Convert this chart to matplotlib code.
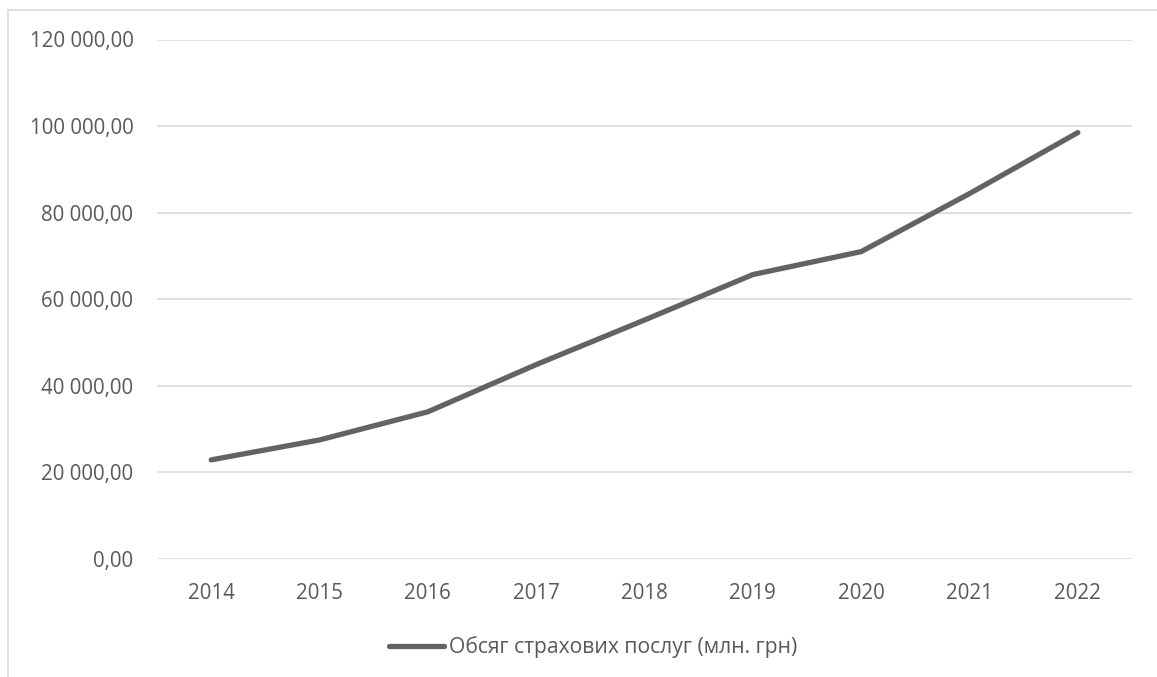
import matplotlib
matplotlib.use("Agg")
import matplotlib.pyplot as plt
from matplotlib.lines import Line2D
from matplotlib.ticker import FuncFormatter, MultipleLocator

years = ["2014", "2015", "2016", "2017", "2018", "2019", "2020", "2021", "2022"]
volume = [22900, 27500, 34000, 44900, 55200, 65700, 71000, 84400, 98500]
series_label = "Обсяг страхових послуг (млн. грн)"

TEXT = "#595959"
GRID = "#d9d9d9"
LINE = "#636363"

plt.rcParams["font.family"] = ["Open Sans", "DejaVu Sans"]


def uah(v, _pos):
    s = f"{v:,.2f}"
    return s.replace(",", " ").replace(".", ",")


fig = plt.figure(figsize=(11.57, 6.77), dpi=100)
W, H = 1157, 677
ax = fig.add_axes([157 / W, 1 - 559 / H, (1132 - 157) / W, (559 - 39.5) / H])

x = list(range(len(years)))
ax.plot(x, volume, color=LINE, lw=3.8, solid_capstyle="round", solid_joinstyle="round",
        label=series_label)

ax.set_xlim(-0.5, len(years) - 0.5)
ax.set_ylim(0, 120000)
ax.yaxis.set_major_locator(MultipleLocator(20000))
ax.yaxis.set_major_formatter(FuncFormatter(uah))
ax.set_xticks(x)
ax.set_xticklabels(years)
ax.grid(axis="y", color=GRID, lw=1.2)
ax.set_axisbelow(True)
for s in ax.spines.values():
    s.set_visible(False)
ax.tick_params(length=0, colors=TEXT, labelsize=14.8)
ax.tick_params(axis="y", pad=17)
ax.tick_params(axis="x", pad=17)

leg = fig.legend(loc="center", bbox_to_anchor=(593 / W, 1 - 647 / H), frameon=False,
                 fontsize=15.2, handlelength=2.6, handletextpad=0.25, labelcolor=TEXT)

# chart frame (left and top edges)
fig.add_artist(Line2D([8 / W, 8 / W], [0, 1 - 10 / H], color=GRID, lw=1.2))
fig.add_artist(Line2D([8 / W, 1], [1 - 10 / H, 1 - 10 / H], color=GRID, lw=1.2))

fig.savefig("out.png", dpi=100)
